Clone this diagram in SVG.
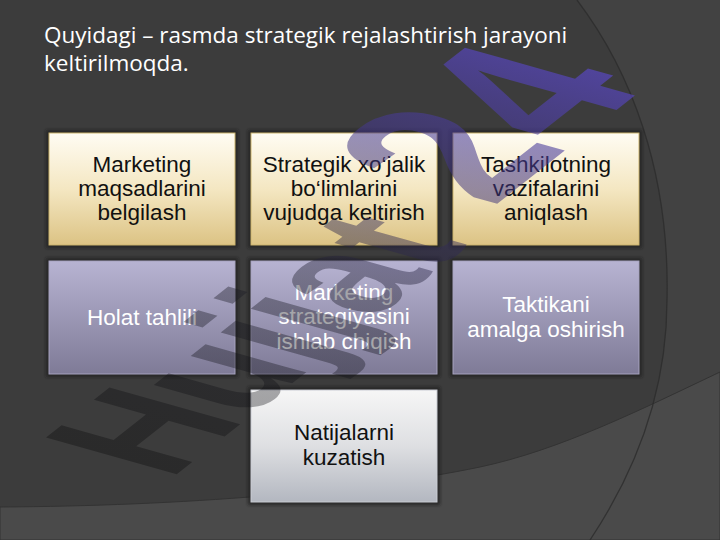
<svg xmlns="http://www.w3.org/2000/svg" width="720" height="540" viewBox="0 0 720 540">
<style>
.bt{font-family:"Liberation Sans",Arial,sans-serif;font-size:22.5px;text-anchor:middle}
.dk{fill:#111}
.lt{fill:#fff}
.title{font-family:"Open Sans","Noto Sans",sans-serif;font-size:22.5px;fill:#fff}
.sh{fill:#1c1c1c;opacity:.75;filter:url(#blur)}
.cream{fill:url(#gCream);stroke:#cdb56e;stroke-width:1}
.lav{fill:url(#gLav);stroke:#a7a3bf;stroke-width:1}
.wht{fill:url(#gWht);stroke:#c9ccd3;stroke-width:1}
.wm{font-family:"Liberation Sans",Arial,sans-serif;font-weight:bold;font-size:100px;fill:url(#gWm)}
</style>
<defs>
<filter id="blur" x="-10%" y="-10%" width="120%" height="120%"><feGaussianBlur stdDeviation="1.6"/></filter>
<linearGradient id="gCream" x1="0" y1="0" x2="0" y2="1"><stop offset="0" stop-color="#fffcf3"/><stop offset="0.5" stop-color="#f4e7c2"/><stop offset="1" stop-color="#dcc384"/></linearGradient>
<linearGradient id="gLav" x1="0" y1="0" x2="0" y2="1"><stop offset="0" stop-color="#b7b3d2"/><stop offset="1" stop-color="#7f7b97"/></linearGradient>
<linearGradient id="gWht" x1="0" y1="0" x2="0" y2="1"><stop offset="0" stop-color="#f6f6f6"/><stop offset="0.5" stop-color="#dedfe2"/><stop offset="1" stop-color="#b3b7c0"/></linearGradient>
<linearGradient id="gWm" gradientUnits="userSpaceOnUse" x1="0" y1="0" x2="460" y2="0"><stop offset="0" stop-color="#000" stop-opacity="0.3"/><stop offset="0.45" stop-color="#1c1c28" stop-opacity="0.4"/><stop offset="0.66" stop-color="#3a3070" stop-opacity="0.5"/><stop offset="1" stop-color="#5a48c8" stop-opacity="0.68"/></linearGradient>
</defs>
<g id="background">
<rect x="0" y="0" width="720" height="540" fill="#3c3c3c"/>
<path d="M577,0 C630,70 670,170 667,300 C667,400 630,480 590,540 L720,540 L720,0 Z" fill="#fff" opacity="0.03"/>
<path d="M0,507 C180,506 360,492 480,467 C560,450 640,410 720,372 L720,540 L0,540 Z" fill="#4a4a4a" stroke="#333" stroke-width="1"/>
<path d="M577,0 C630,70 670,170 667,300 C667,400 630,480 590,540" fill="none" stroke="#2c2c2c" stroke-width="1.3" opacity="0.8"/>
</g>
<g id="title">
<text class="title" x="44" y="43">Quyidagi – rasmda strategik rejalashtirish jarayoni</text>
<text class="title" x="44" y="71">keltirilmoqda.</text>
</g>
<g id="connectors"/>
<g id="n1">
<rect class="sh" x="46" y="130" width="192" height="118"/>
<rect class="cream" x="49" y="133" width="186" height="112"/>
<text class="bt dk"><tspan x="142" y="172">Marketing</tspan><tspan x="142" y="196">maqsadlarini</tspan><tspan x="142" y="220">belgilash</tspan></text>
</g>
<g id="n2">
<rect class="sh" x="248" y="130" width="192" height="118"/>
<rect class="cream" x="251" y="133" width="186" height="112"/>
<text class="bt dk"><tspan x="344" y="172">Strategik xo‘jalik</tspan><tspan x="344" y="196">bo‘limlarini</tspan><tspan x="344" y="220">vujudga keltirish</tspan></text>
</g>
<g id="n3">
<rect class="sh" x="450" y="130" width="192" height="118"/>
<rect class="cream" x="453" y="133" width="186" height="112"/>
<text class="bt dk"><tspan x="546" y="172">Tashkilotning</tspan><tspan x="546" y="196">vazifalarini</tspan><tspan x="546" y="220">aniqlash</tspan></text>
</g>
<g id="n4">
<rect class="sh" x="46" y="258" width="192" height="119"/>
<rect class="lav" x="49" y="261" width="186" height="113"/>
<text class="bt lt"><tspan x="142" y="325">Holat tahlili</tspan></text>
</g>
<g id="n5">
<rect class="sh" x="248" y="258" width="192" height="119"/>
<rect class="lav" x="251" y="261" width="186" height="113"/>
<text class="bt lt"><tspan x="344" y="300">Marketing</tspan><tspan x="344" y="324">strategiyasini</tspan><tspan x="344" y="349">ishlab chiqish</tspan></text>
</g>
<g id="n6">
<rect class="sh" x="450" y="258" width="192" height="119"/>
<rect class="lav" x="453" y="261" width="186" height="113"/>
<text class="bt lt"><tspan x="546" y="312">Taktikani</tspan><tspan x="546" y="337">amalga oshirish</tspan></text>
</g>
<g id="n7">
<rect class="sh" x="248" y="387" width="192" height="118"/>
<rect class="wht" x="251" y="390" width="186" height="112"/>
<text class="bt dk"><tspan x="344" y="440">Natijalarni</tspan><tspan x="344" y="465">kuzatish</tspan></text>
</g>
<g id="watermark">
<text class="wm" x="0" y="0" transform="matrix(1.08 -0.85 1.90 0.535 169.5 480)">Hujjat<tspan dx="37" dy="-9" font-size="130">24</tspan></text>
</g>
</svg>
